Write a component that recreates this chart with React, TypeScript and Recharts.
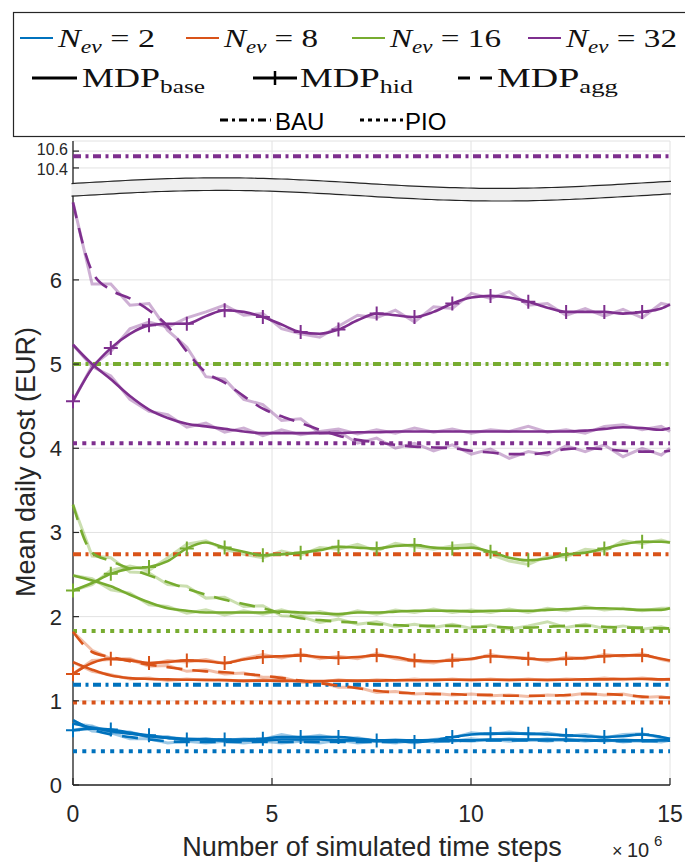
import React from "react";
import {
  LineChart,
  Line,
  XAxis,
  YAxis,
  CartesianGrid,
  ReferenceArea,
  ReferenceLine,
} from "recharts";

// x positions (x10^6 simulated time steps)
const STEPS = [0, 0.48, 0.95, 1.43, 1.91, 2.38, 2.86, 3.34, 3.81, 4.29, 4.77, 5.24, 5.72, 6.2, 6.67, 7.15, 7.63, 8.1, 8.58, 9.06, 9.53, 10.01, 10.49, 10.96, 11.44, 11.92, 12.39, 12.87, 13.35, 13.82, 14.3, 14.78, 15];

const NEV = ["2", "8", "16", "32"];
const COLORS = ["#0072BD", "#D95319", "#77AC30", "#7E2F8E"];

// smoothed curves
const BASE_2 = [0.73, 0.68, 0.64, 0.61, 0.58, 0.56, 0.55, 0.54, 0.53, 0.53, 0.53, 0.54, 0.54, 0.54, 0.53, 0.53, 0.53, 0.53, 0.53, 0.53, 0.53, 0.53, 0.54, 0.54, 0.54, 0.54, 0.54, 0.53, 0.53, 0.53, 0.53, 0.53, 0.53];
const HID_2 = [0.65, 0.67, 0.66, 0.62, 0.59, 0.56, 0.54, 0.54, 0.54, 0.54, 0.55, 0.57, 0.57, 0.57, 0.57, 0.55, 0.53, 0.52, 0.51, 0.53, 0.57, 0.6, 0.61, 0.61, 0.61, 0.6, 0.59, 0.58, 0.57, 0.58, 0.6, 0.57, 0.55];
const AGG_2 = [0.77, 0.66, 0.6, 0.57, 0.54, 0.52, 0.51, 0.51, 0.51, 0.51, 0.51, 0.51, 0.51, 0.51, 0.51, 0.51, 0.51, 0.51, 0.52, 0.52, 0.52, 0.53, 0.53, 0.53, 0.53, 0.53, 0.53, 0.53, 0.53, 0.52, 0.52, 0.52, 0.53];

const BASE_8 = [1.46, 1.37, 1.3, 1.27, 1.26, 1.255, 1.25, 1.25, 1.245, 1.24, 1.24, 1.24, 1.235, 1.235, 1.24, 1.24, 1.24, 1.245, 1.245, 1.25, 1.25, 1.25, 1.25, 1.25, 1.25, 1.25, 1.25, 1.255, 1.255, 1.26, 1.26, 1.255, 1.255];
const HID_8 = [1.32, 1.45, 1.5, 1.48, 1.45, 1.46, 1.48, 1.47, 1.45, 1.49, 1.52, 1.53, 1.54, 1.52, 1.51, 1.52, 1.54, 1.52, 1.48, 1.47, 1.48, 1.5, 1.53, 1.52, 1.5, 1.49, 1.5, 1.51, 1.53, 1.54, 1.54, 1.5, 1.48];
const AGG_8 = [1.82, 1.58, 1.52, 1.47, 1.43, 1.4, 1.37, 1.35, 1.34, 1.32, 1.3, 1.27, 1.24, 1.21, 1.18, 1.15, 1.12, 1.1, 1.09, 1.08, 1.08, 1.07, 1.07, 1.06, 1.06, 1.06, 1.07, 1.08, 1.08, 1.07, 1.05, 1.04, 1.04];

const BASE_16 = [2.49, 2.43, 2.36, 2.26, 2.17, 2.1, 2.07, 2.05, 2.05, 2.05, 2.05, 2.06, 2.05, 2.04, 2.03, 2.05, 2.05, 2.06, 2.07, 2.07, 2.07, 2.06, 2.07, 2.07, 2.07, 2.08, 2.09, 2.1, 2.1, 2.09, 2.08, 2.08, 2.1];
const HID_16 = [2.31, 2.4, 2.51, 2.57, 2.59, 2.66, 2.81, 2.88, 2.82, 2.77, 2.73, 2.74, 2.76, 2.79, 2.83, 2.82, 2.81, 2.84, 2.85, 2.82, 2.81, 2.82, 2.77, 2.7, 2.67, 2.69, 2.74, 2.76, 2.81, 2.86, 2.89, 2.89, 2.88];
const AGG_16 = [3.33, 2.76, 2.66, 2.57, 2.49, 2.41, 2.33, 2.26, 2.2, 2.15, 2.1, 2.04, 1.98, 1.96, 1.94, 1.93, 1.91, 1.9, 1.89, 1.89, 1.89, 1.88, 1.88, 1.87, 1.87, 1.88, 1.89, 1.89, 1.88, 1.87, 1.87, 1.86, 1.86];

const BASE_32 = [5.23, 5.0, 4.82, 4.62, 4.46, 4.36, 4.29, 4.26, 4.23, 4.2, 4.18, 4.18, 4.18, 4.18, 4.18, 4.19, 4.19, 4.2, 4.2, 4.2, 4.2, 4.2, 4.2, 4.2, 4.2, 4.2, 4.2, 4.21, 4.23, 4.25, 4.24, 4.22, 4.24];
const HID_32 = [4.56, 4.95, 5.19, 5.36, 5.46, 5.48, 5.48, 5.57, 5.64, 5.62, 5.56, 5.47, 5.38, 5.36, 5.41, 5.52, 5.6, 5.58, 5.56, 5.62, 5.72, 5.79, 5.81, 5.79, 5.74, 5.67, 5.62, 5.62, 5.62, 5.6, 5.62, 5.66, 5.71];
const AGG_32 = [6.92, 6.1, 5.88, 5.78, 5.64, 5.45, 5.15, 4.9, 4.78, 4.62, 4.47, 4.38, 4.3, 4.22, 4.15, 4.1, 4.07, 4.04, 4.02, 4.01, 4.0, 3.97, 3.95, 3.93, 3.93, 3.95, 3.99, 4.0, 3.99, 3.97, 3.96, 3.96, 3.97];

// raw (unsmoothed) curves, drawn faded
const BASE_2_RAW = [0.73, 0.7, 0.62, 0.62, 0.57, 0.57, 0.54, 0.55, 0.52, 0.54, 0.52, 0.56, 0.53, 0.55, 0.52, 0.54, 0.52, 0.54, 0.52, 0.54, 0.52, 0.55, 0.53, 0.55, 0.53, 0.55, 0.53, 0.54, 0.52, 0.54, 0.52, 0.54, 0.53];
const HID_2_RAW = [0.65, 0.69, 0.64, 0.63, 0.57, 0.57, 0.53, 0.55, 0.53, 0.55, 0.54, 0.6, 0.56, 0.59, 0.55, 0.56, 0.52, 0.53, 0.5, 0.54, 0.56, 0.62, 0.6, 0.63, 0.6, 0.62, 0.58, 0.6, 0.56, 0.6, 0.61, 0.56, 0.55];
const AGG_2_RAW = [0.77, 0.64, 0.62, 0.55, 0.55, 0.5, 0.52, 0.5, 0.52, 0.5, 0.52, 0.5, 0.52, 0.5, 0.53, 0.5, 0.52, 0.5, 0.53, 0.51, 0.53, 0.52, 0.54, 0.52, 0.54, 0.52, 0.54, 0.52, 0.54, 0.51, 0.53, 0.51, 0.53];

const BASE_8_RAW = [1.46, 1.35, 1.31, 1.26, 1.27, 1.24, 1.26, 1.24, 1.25, 1.23, 1.25, 1.23, 1.24, 1.22, 1.25, 1.23, 1.25, 1.24, 1.26, 1.24, 1.26, 1.24, 1.26, 1.24, 1.26, 1.24, 1.26, 1.25, 1.27, 1.25, 1.27, 1.25, 1.26];
const HID_8_RAW = [1.32, 1.48, 1.49, 1.5, 1.43, 1.48, 1.46, 1.49, 1.44, 1.5, 1.55, 1.51, 1.56, 1.5, 1.53, 1.5, 1.56, 1.5, 1.47, 1.45, 1.5, 1.49, 1.55, 1.51, 1.51, 1.47, 1.52, 1.5, 1.55, 1.53, 1.56, 1.49, 1.47];
const AGG_8_RAW = [1.82, 1.6, 1.5, 1.49, 1.41, 1.42, 1.35, 1.37, 1.32, 1.33, 1.28, 1.28, 1.22, 1.22, 1.16, 1.16, 1.1, 1.11, 1.08, 1.09, 1.07, 1.08, 1.06, 1.07, 1.05, 1.07, 1.06, 1.09, 1.07, 1.08, 1.04, 1.05, 1.03];

const BASE_16_RAW = [2.49, 2.45, 2.32, 2.28, 2.14, 2.12, 2.04, 2.08, 2.02, 2.07, 2.03, 2.08, 2.02, 2.06, 2.01, 2.07, 2.03, 2.08, 2.05, 2.09, 2.05, 2.08, 2.05, 2.09, 2.05, 2.1, 2.07, 2.12, 2.08, 2.1, 2.07, 2.1, 2.1];
const HID_16_RAW = [2.31, 2.38, 2.55, 2.6, 2.55, 2.7, 2.86, 2.9, 2.8, 2.74, 2.7, 2.78, 2.73, 2.82, 2.8, 2.86, 2.78, 2.87, 2.83, 2.8, 2.84, 2.86, 2.74, 2.66, 2.62, 2.72, 2.71, 2.8, 2.78, 2.9, 2.87, 2.91, 2.88];
const AGG_16_RAW = [3.33, 2.72, 2.7, 2.53, 2.52, 2.38, 2.36, 2.22, 2.23, 2.12, 2.13, 2.01, 2.0, 1.93, 1.97, 1.91, 1.94, 1.88, 1.91, 1.87, 1.91, 1.86, 1.9, 1.85, 1.89, 1.94, 1.87, 1.91, 1.86, 1.89, 1.85, 1.88, 1.85];

const BASE_32_RAW = [5.23, 4.97, 4.86, 4.58, 4.44, 4.4, 4.25, 4.3, 4.19, 4.24, 4.15, 4.22, 4.16, 4.2, 4.23, 4.17, 4.22, 4.18, 4.24, 4.19, 4.23, 4.18, 4.22, 4.2, 4.26, 4.19, 4.22, 4.18, 4.26, 4.28, 4.22, 4.26, 4.2];
const HID_32_RAW = [4.56, 4.98, 5.15, 5.42, 5.5, 5.44, 5.55, 5.62, 5.7, 5.58, 5.6, 5.42, 5.36, 5.32, 5.45, 5.58, 5.55, 5.64, 5.5, 5.68, 5.66, 5.84, 5.78, 5.86, 5.7, 5.72, 5.58, 5.66, 5.57, 5.65, 5.55, 5.72, 5.7];
const AGG_32_RAW = [6.92, 5.95, 5.95, 5.7, 5.72, 5.4, 5.2, 4.85, 4.82, 4.58, 4.52, 4.33, 4.35, 4.18, 4.2, 4.06, 4.12, 4.0, 4.06, 3.97, 4.04, 3.93, 3.99, 3.88, 3.96, 3.92, 4.03, 3.96, 4.04, 3.9, 4.0, 3.92, 4.0];

// constant reference policies
const BAU = [1.19, 2.74, 5.0, 10.54];
const PIO = [0.4, 0.98, 1.83, 4.06];

const Y_TICKS = [0, 1, 2, 3, 4, 5, 6, 10.4, 10.6];

// broken y axis: everything above the break is shifted down by GAP
const GAP = 3.07;
const brk = (v: number) => (v > 8 ? v - GAP : v);

const SANS = "'Liberation Sans', Arial, Helvetica, sans-serif";
const SERIF = "'Liberation Serif', 'Times New Roman', serif";
const INK = "#262626";

const groups = [
  { base: BASE_2, hid: HID_2, agg: AGG_2, baseRaw: BASE_2_RAW, hidRaw: HID_2_RAW, aggRaw: AGG_2_RAW },
  { base: BASE_8, hid: HID_8, agg: AGG_8, baseRaw: BASE_8_RAW, hidRaw: HID_8_RAW, aggRaw: AGG_8_RAW },
  { base: BASE_16, hid: HID_16, agg: AGG_16, baseRaw: BASE_16_RAW, hidRaw: HID_16_RAW, aggRaw: AGG_16_RAW },
  { base: BASE_32, hid: HID_32, agg: AGG_32, baseRaw: BASE_32_RAW, hidRaw: HID_32_RAW, aggRaw: AGG_32_RAW },
];
const KINDS = ["base", "hid", "agg", "baseRaw", "hidRaw", "aggRaw"] as const;

const rows = STEPS.map((x, i) => {
  const r: Record<string, number> = { x };
  groups.forEach((g, gi) => {
    KINDS.forEach((k) => {
      r[`${k}${NEV[gi]}`] = brk(g[k][i]);
    });
  });
  return r;
});

const plusDot = (color: string) => (p: any) => {
  const { cx, cy, index } = p;
  if (index % 2 !== 0 || index > 30 || cx == null) return <g key={`p${index}`} />;
  return (
    <path
      key={`p${index}`}
      d={`M${cx - 7},${cy}H${cx + 7}M${cx},${cy - 7}V${cy + 7}`}
      stroke={color}
      strokeWidth={2}
      fill="none"
    />
  );
};

const Band = (p: any) => {
  const { x, y, width, height } = p;
  const wave = (px: number) => -5.3 * Math.cos((2 * Math.PI * (px - x - 147)) / 560);
  const xs: number[] = [];
  for (let px = x - 1.5; px < x + width + 1; px += 6) xs.push(px);
  xs.push(x + width + 1);
  const top = xs.map((px) => `${px.toFixed(1)},${(y + wave(px)).toFixed(1)}`);
  const bot = xs.map((px) => `${px.toFixed(1)},${(y + height + wave(px)).toFixed(1)}`);
  return (
    <g>
      <path d={`M${top.join("L")}L${bot.slice().reverse().join("L")}Z`} fill="#efefef" stroke="none" />
      <path d={`M${top.join("L")}`} fill="none" stroke={INK} strokeWidth={1.2} />
      <path d={`M${bot.join("L")}`} fill="none" stroke={INK} strokeWidth={1.2} />
    </g>
  );
};

const YTick = (p: any) => {
  const { x, y, payload } = p;
  const v = payload.value as number;
  if (v > 7) {
    const upper = v > 7.4;
    return (
      <text
        x={x + 6}
        y={y + (upper ? -1.5 : 1.5)}
        dy="0.35em"
        textAnchor="end"
        fontSize={16}
        fontFamily={SANS}
        fill={INK}
      >
        {(v + GAP).toFixed(1)}
      </text>
    );
  }
  return (
    <text x={x} y={y} dy="0.36em" textAnchor="end" fontSize={22} fontFamily={SANS} fill={INK}>
      {Math.round(v)}
    </text>
  );
};

const XTick = (p: any) => {
  const { x, y, payload } = p;
  return (
    <text x={x} y={y} dy={17} textAnchor="middle" fontSize={23} fontFamily={SANS} fill={INK}>
      {payload.value}
    </text>
  );
};

const LEG_X = [20, 186, 352, 528];
const LEG_W = [97, 94, 111, 111];

function Legend() {
  const sub = (main: string, s: string, x: number, w: number) => (
    <text x={x} y={87} fontFamily={SERIF} fontSize={27} fill="#111" textLength={w} lengthAdjust="spacingAndGlyphs">
      {main}
      <tspan fontSize={19} dy={6}>{s}</tspan>
    </text>
  );
  return (
    <svg width={685} height={140} style={{ position: "absolute", left: 0, top: 0 }}>
      <rect x={13.5} y={12.5} width={700} height={124} fill="#fff" stroke={INK} strokeWidth={1.2} />
      {NEV.map((n, i) => (
        <g key={n}>
          <line x1={LEG_X[i]} x2={LEG_X[i] + 33} y1={38} y2={38} stroke={COLORS[i]} strokeWidth={2} />
          <text
            x={LEG_X[i] + 38}
            y={47}
            fontFamily={SERIF}
            fontSize={26}
            fill="#111"
            textLength={LEG_W[i]}
            lengthAdjust="spacingAndGlyphs"
          >
            <tspan fontStyle="italic">N</tspan>
            <tspan fontStyle="italic" fontSize={18} dy={6}>ev</tspan>
            <tspan dy={-6}>{` = ${n}`}</tspan>
          </text>
        </g>
      ))}
      <line x1={32} x2={77} y1={78} y2={78} stroke="#000" strokeWidth={3} />
      {sub("MDP", "base", 82, 123)}
      <line x1={253} x2={297} y1={78} y2={78} stroke="#000" strokeWidth={3} />
      <line x1={275} x2={275} y1={71} y2={85} stroke="#000" strokeWidth={2.5} />
      {sub("MDP", "hid", 300, 113)}
      <line x1={458} x2={493} y1={78} y2={78} stroke="#000" strokeWidth={3} strokeDasharray="12 10" />
      {sub("MDP", "agg", 497, 121)}
      <line x1={220} x2={271} y1={120} y2={120} stroke="#000" strokeWidth={3} strokeDasharray="8 4 3 4" />
      <text x={275} y={130} fontFamily={SANS} fontSize={24} fill="#000">BAU</text>
      <line x1={360} x2={403} y1={120} y2={120} stroke="#000" strokeWidth={3} strokeDasharray="4 4" />
      <text x={405} y={130} fontFamily={SANS} fontSize={24} fill="#000">PIO</text>
    </svg>
  );
}

export default function App() {
  return (
    <div style={{ position: "absolute", left: 0, top: 0, width: 685, height: 863, background: "#fff" }}>
      <LineChart
        width={685}
        height={863}
        data={rows}
        margin={{ top: 141, right: 15, bottom: 0, left: 0 }}
      >
        <CartesianGrid stroke="#e2e2e2" strokeWidth={1} />
        <XAxis
          dataKey="x"
          type="number"
          domain={[0, 15]}
          ticks={[0, 5, 10, 15]}
          height={78}
          axisLine={{ stroke: INK, strokeWidth: 1.3 }}
          tickLine={{ stroke: INK, strokeWidth: 1.2 }}
          tickSize={-7}
          tickMargin={27}
          tick={<XTick />}
          interval={0}
        />
        <YAxis
          type="number"
          domain={[0, 7.65]}
          ticks={Y_TICKS.map(brk)}
          width={73}
          axisLine={false}
          tickLine={{ stroke: INK, strokeWidth: 1.2 }}
          tickSize={-6}
          tickMargin={17}
          tick={<YTick />}
          interval={0}
          allowDataOverflow
        />
        <ReferenceLine segment={[{ x: 0, y: 0 }, { x: 0, y: 7.0 }]} stroke={INK} strokeWidth={1.3} />
        <ReferenceLine segment={[{ x: 0, y: 7.15 }, { x: 0, y: 7.65 }]} stroke={INK} strokeWidth={1.3} />
        <ReferenceArea x1={0} x2={15} y1={7.0} y2={7.15} shape={Band} />

        {NEV.flatMap((n, i) =>
          ["baseRaw", "hidRaw", "aggRaw"].map((k) => (
            <Line
              key={`${k}${n}`}
              dataKey={`${k}${n}`}
              type="linear"
              stroke={COLORS[i]}
              strokeOpacity={0.38}
              strokeWidth={3}
              dot={false}
              activeDot={false}
              isAnimationActive={false}
            />
          ))
        )}

        {NEV.map((n, i) => (
          <Line
            key={`bau${n}`}
            data={[{ x: 0, v: brk(BAU[i]) }, { x: 15, v: brk(BAU[i]) }]}
            dataKey="v"
            stroke={COLORS[i]}
            strokeWidth={4}
            strokeDasharray="8 4.5 3 4.5"
            dot={false}
            activeDot={false}
            isAnimationActive={false}
          />
        ))}
        {NEV.map((n, i) => (
          <Line
            key={`pio${n}`}
            data={[{ x: 0, v: brk(PIO[i]) }, { x: 15, v: brk(PIO[i]) }]}
            dataKey="v"
            stroke={COLORS[i]}
            strokeWidth={4}
            strokeDasharray="4 5.3"
            dot={false}
            activeDot={false}
            isAnimationActive={false}
          />
        ))}

        {NEV.map((n, i) => (
          <Line
            key={`base${n}`}
            dataKey={`base${n}`}
            type="monotone"
            stroke={COLORS[i]}
            strokeWidth={2.6}
            dot={false}
            activeDot={false}
            isAnimationActive={false}
          />
        ))}
        {NEV.map((n, i) => (
          <Line
            key={`agg${n}`}
            dataKey={`agg${n}`}
            type="monotone"
            stroke={COLORS[i]}
            strokeWidth={2.6}
            strokeDasharray="16 10"
            dot={false}
            activeDot={false}
            isAnimationActive={false}
          />
        ))}
        {NEV.map((n, i) => (
          <Line
            key={`hid${n}`}
            dataKey={`hid${n}`}
            type="monotone"
            stroke={COLORS[i]}
            strokeWidth={2.6}
            dot={plusDot(COLORS[i])}
            activeDot={false}
            isAnimationActive={false}
          />
        ))}
      </LineChart>

      <svg width={685} height={863} style={{ position: "absolute", left: 0, top: 0, pointerEvents: "none" }}>
        <text
          transform="translate(35,462) rotate(-90)"
          textAnchor="middle"
          fontFamily={SANS}
          fontSize={27}
          fill={INK}
        >
          Mean daily cost (EUR)
        </text>
        <text x={372} y={856} textAnchor="middle" fontFamily={SANS} fontSize={27} fill={INK}>
          Number of simulated time steps
        </text>
        <text x={612} y={857} fontFamily={SANS} fontSize={18} fill={INK}>×</text>
        <text x={627} y={857} fontFamily={SANS} fontSize={20} fill={INK}>10</text>
        <text x={654} y={846} fontFamily={SANS} fontSize={15} fill={INK}>6</text>
      </svg>
      <Legend />
    </div>
  );
}
